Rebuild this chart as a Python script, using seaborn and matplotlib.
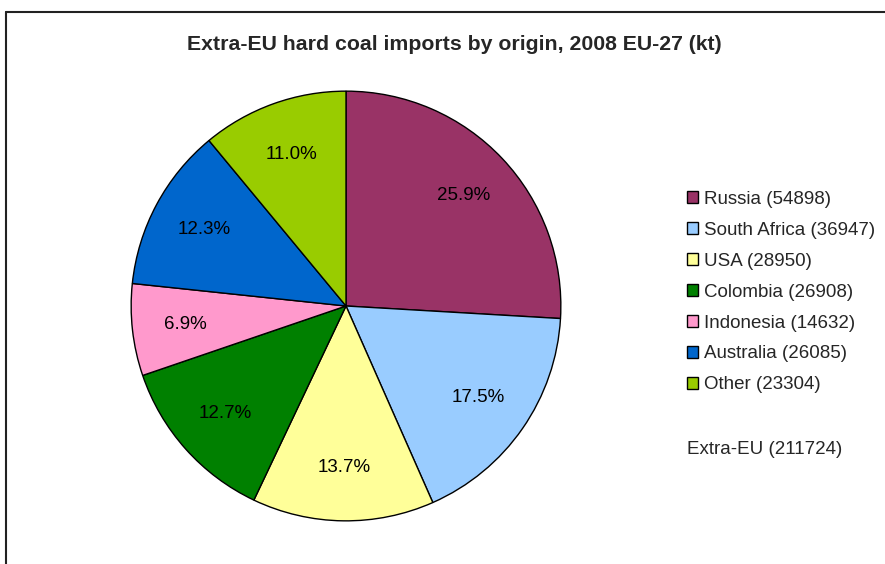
import matplotlib
matplotlib.use("Agg")
import matplotlib.pyplot as plt
import seaborn as sns
from matplotlib.patches import Patch
from matplotlib.lines import Line2D

# data
countries = ["Russia", "South Africa", "USA", "Colombia", "Indonesia", "Australia", "Other"]
imports_kt = [54898, 36947, 28950, 26908, 14632, 26085, 23304]
total_kt = 211724
colors = ["#993366", "#99ccff", "#ffff99", "#008000", "#ff99cc", "#0066cc", "#99cc00"]

sns.set_style("white")
plt.rcParams["font.family"] = ["Liberation Sans", "DejaVu Sans"]

W, H = 885, 564
fig = plt.figure(figsize=(W / 100, H / 100), dpi=100)

# outer frame (only top and left edges visible in the crop)
fig.add_artist(Line2D([6 / W, 6 / W], [0, 1 - 12 / H], color="#222222", lw=1.5))
fig.add_artist(Line2D([6 / W, 1], [1 - 12 / H, 1 - 12 / H], color="#222222", lw=1.5))

# pie axes: centre (346, 306), radius 217 px
cx, cy, r = 346, 306, 217
ax = fig.add_axes([(cx - r) / W, (H - cy - r) / H, 2 * r / W, 2 * r / H])
wedges, texts, autotexts = ax.pie(
    imports_kt, colors=colors, startangle=90, counterclock=False,
    autopct="%.1f%%", pctdistance=0.75,
    wedgeprops=dict(edgecolor="black", linewidth=1),
    textprops=dict(fontsize=13.5, color="black"),
)
ax.set_xlim(-1.01, 1.01)
ax.set_ylim(-1.01, 1.01)
ax.set_aspect("equal")
ax.axis("off")

fig.text(454 / W, 1 - 45 / H, "Extra-EU hard coal imports by origin, 2008 EU-27 (kt)",
         ha="center", va="center", fontsize=15.3, fontweight="bold")

handles = [Patch(facecolor=c, edgecolor="black", linewidth=1) for c in colors]
labels = [f"{n} ({v})" for n, v in zip(countries, imports_kt)]
fig.legend(handles, labels, loc="upper left", bbox_to_anchor=(687 / W, 1 - 191 / H),
           frameon=False, fontsize=13.5, handlelength=0.6, handleheight=0.6,
           handletextpad=0.32, labelspacing=0.74, borderpad=0, borderaxespad=0)

fig.text(687 / W, 1 - 449 / H, f"Extra-EU ({total_kt})", ha="left", va="center",
         fontsize=13.5)

fig.savefig("out.png", dpi=100, facecolor="white")
